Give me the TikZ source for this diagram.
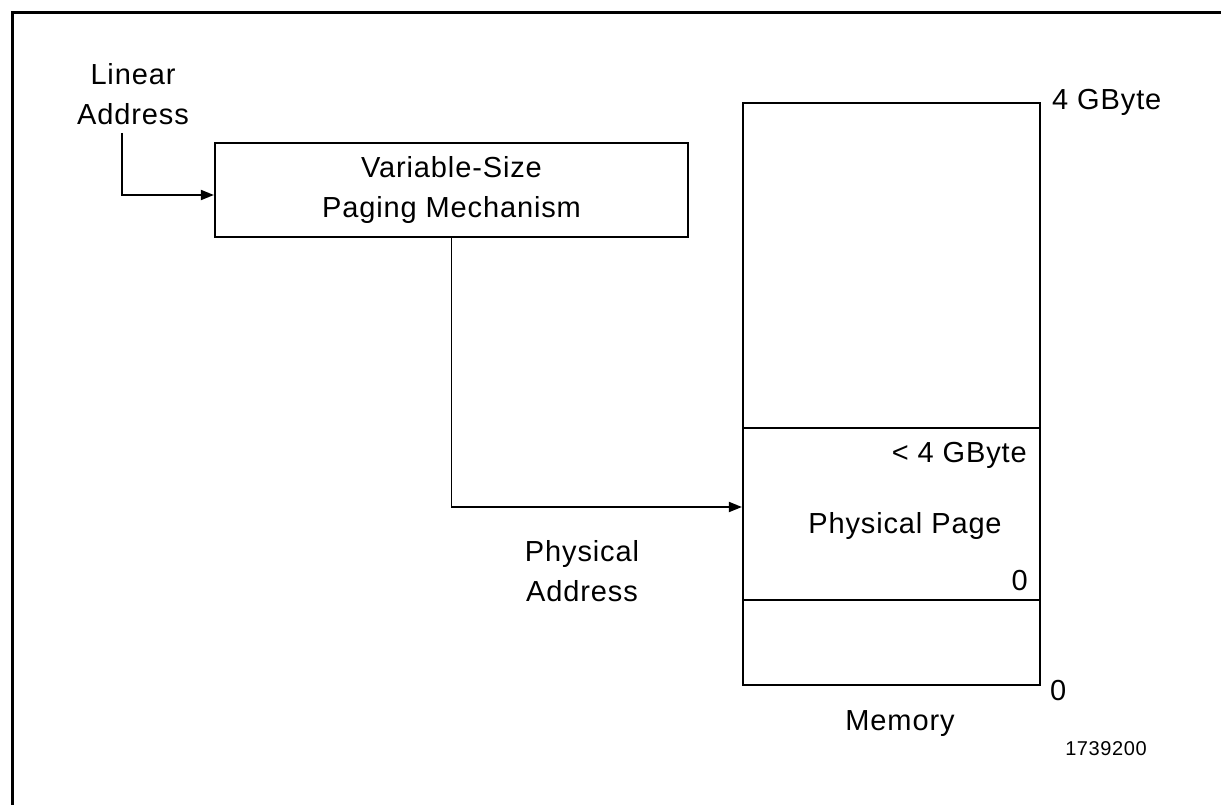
\documentclass[tikz,border=0pt]{standalone}
\usepackage{fontspec}
\setmainfont{Liberation Sans}[LetterSpace=3]
\usetikzlibrary{arrows.meta}
\begin{document}
\begin{tikzpicture}[x=1pt, y=-1pt, inner sep=0pt, font=\fontsize{29}{40}\selectfont, >={Triangle[length=13pt,width=10pt]},
 box/.style={draw, line width=2.2pt, minimum width=#1},
 lbl/.style={align=center},
 link/.style={line width=1.8pt, ->}]
 \useasboundingbox (0,0) rectangle (1221,805);
 \draw[line width=3pt] (12.5,805) -- (12.5,12.5) -- (1221,12.5);
 \node[lbl] (lin) at (133,94) {Linear\\Address};
 \node[box=473pt, minimum height=94pt, align=center] (mech) at (451.5,190) {Variable-Size\\Paging Mechanism};
 \node[box=297pt, minimum height=582pt] (mem) at (891.5,394) {};
 \node[box=297pt, minimum height=172pt] (page) at (891.5,514) {};
 \draw[link] ([xshift=-11pt,yshift=-8pt]lin.south) |- ([yshift=-5pt]mech.west);
 \draw[link] (mech.south) |- ([yshift=7pt]page.west);
 \node[anchor=base west] (top) at (1052,110) {4 GByte};
 \node[anchor=base east] (hi) at (1027,462) {< 4 GByte};
 \node[anchor=base] (pp) at (905,533) {Physical Page};
 \node[anchor=base east] (lo) at (1028,590) {0};
 \node[anchor=base west] (zero) at (1050,700) {0};
 \node[anchor=base] (memlbl) at (900,730) {Memory};
 \node[lbl] (phys) at (582,571) {Physical\\Address};
 \node[anchor=base, font=\fontsize{20}{24}\selectfont] (fig) at (1106,755) {1739200};
\end{tikzpicture}
\end{document}
